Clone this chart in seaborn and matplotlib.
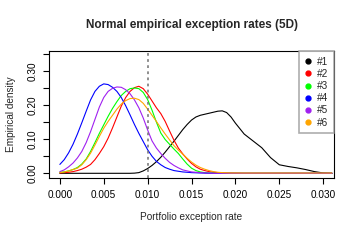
import numpy as np
import pandas as pd
import seaborn as sns
import matplotlib
matplotlib.use("Agg")
import matplotlib.pyplot as plt
from matplotlib.lines import Line2D

# exception rate grid (fine up to 2%, coarser after) and density readings
rate = [i / 2000 for i in range(41)] + [i / 1000 for i in range(21, 32)]
d1 = [0] * 17 + [0.0005, 0.002, 0.007, 0.014, 0.023, 0.034, 0.047, 0.062, 0.078,
                 0.094, 0.111, 0.128, 0.143, 0.156, 0.165, 0.170, 0.173, 0.176,
                 0.179, 0.182, 0.183, 0.178, 0.165, 0.147] + \
     [0.115, 0.095, 0.075, 0.046, 0.025, 0.020, 0.016, 0.011, 0.005, 0.001, 0]
d2 = [0.001, 0.002, 0.003, 0.005, 0.008, 0.012, 0.018, 0.026, 0.040, 0.058, 0.078,
      0.103, 0.133, 0.165, 0.197, 0.222, 0.240, 0.251, 0.255, 0.248, 0.232, 0.212,
      0.192, 0.175, 0.152, 0.124, 0.097, 0.074, 0.057, 0.042, 0.029, 0.019, 0.012,
      0.008, 0.005, 0.003, 0.002, 0.0015, 0.001, 0.0008, 0.0005] + [0] * 11
d3 = [0.003, 0.004, 0.007, 0.011, 0.017, 0.027, 0.042, 0.064, 0.090, 0.117, 0.142,
      0.167, 0.190, 0.210, 0.228, 0.240, 0.248, 0.250, 0.248, 0.237, 0.216, 0.185,
      0.150, 0.118, 0.099, 0.085, 0.071, 0.058, 0.042, 0.027, 0.015, 0.008, 0.004,
      0.002, 0.001, 0.0005] + [0] * 5 + [0] * 11
d4 = [0.026, 0.040, 0.060, 0.085, 0.115, 0.148, 0.182, 0.215, 0.240, 0.255, 0.262,
      0.260, 0.252, 0.240, 0.222, 0.198, 0.171, 0.143, 0.117, 0.093, 0.069, 0.050,
      0.035, 0.025, 0.017, 0.012, 0.008, 0.006, 0.004, 0.003, 0.002, 0.0015, 0.001,
      0.0005] + [0] * 7 + [0] * 11
d5 = [0.005, 0.010, 0.019, 0.030, 0.045, 0.064, 0.090, 0.122, 0.158, 0.194, 0.222,
      0.240, 0.249, 0.253, 0.252, 0.245, 0.233, 0.215, 0.192, 0.162, 0.127, 0.095,
      0.074, 0.058, 0.044, 0.032, 0.023, 0.016, 0.010, 0.007, 0.004, 0.003, 0.002,
      0.001, 0.0005] + [0] * 6 + [0] * 11
d6 = [0.002, 0.004, 0.007, 0.011, 0.015, 0.025, 0.040, 0.059, 0.083, 0.108, 0.132,
      0.152, 0.170, 0.188, 0.203, 0.213, 0.219, 0.220, 0.216, 0.205, 0.188, 0.170,
      0.152, 0.133, 0.115, 0.098, 0.081, 0.068, 0.056, 0.044, 0.033, 0.024, 0.017,
      0.012, 0.008, 0.005, 0.003, 0.002, 0.0015, 0.001, 0.001] + [0.0008] * 11

names = ["#1", "#2", "#3", "#4", "#5", "#6"]
colors = ["black", "#FF0000", "#00FF00", "#0000FF", "#A020F0", "#FFA500"]
target = 0.01

frames = []
for name, dens in zip(names, [d1, d2, d3, d4, d5, d6]):
    frames.append(pd.DataFrame({"rate": rate, "density": dens, "series": name}))
df = pd.concat(frames)

sns.set_style("white")
plt.rcParams['font.family'] = ['Liberation Sans', 'DejaVu Sans']

fig = plt.figure(figsize=(3.6, 2.4), dpi=100)
ax = fig.add_axes([0.136, 0.258, 0.792, 0.529])

sns.lineplot(data=df, x="rate", y="density", hue="series", hue_order=names,
             palette=colors, estimator=None, sort=False, legend=False,
             linewidth=0.8, ax=ax)
ax.axvline(target, color="#707070", lw=1.1, ls=(0, (1.8, 2.2)))

ax.set_xlim(-0.00124, 0.03124)
ax.set_ylim(-0.014, 0.358)
ax.set_xticks([0, 0.005, 0.01, 0.015, 0.02, 0.025, 0.03])
ax.set_xticklabels(["0.000", "0.005", "0.010", "0.015", "0.020", "0.025", "0.030"])
yt = [0, 0.05, 0.1, 0.15, 0.2, 0.25, 0.3, 0.35]
ax.set_yticks(yt)
ax.set_yticklabels(["0.00", "", "0.10", "", "0.20", "", "0.30", ""],
                   rotation=90, va="center")
ax.tick_params(axis="both", direction="out", length=4.5, width=0.8,
               labelsize=7.2, color="black", labelcolor="black", pad=4,
               left=True, bottom=True)
for s in ax.spines.values():
    s.set_visible(True)
    s.set_color("black")
    s.set_linewidth(0.8)

ax.set_xlabel("Portfolio exception rate", fontsize=7.2, labelpad=9)
ax.set_ylabel("Empirical density", fontsize=7.2, labelpad=8)
ax.set_title("Normal empirical exception rates (5D)", fontsize=8.5,
             fontweight="bold", pad=17)

handles = [Line2D([], [], ls="none", marker="o", markersize=3.5,
                  color=c) for c in colors]
leg = ax.legend(handles, names, loc="upper right", fontsize=7.2,
                frameon=True, fancybox=False, borderaxespad=0,
                handletextpad=0.5, labelspacing=0.22, borderpad=0.55,
                handlelength=0.8)
leg.get_frame().set_edgecolor("#999999")
leg.get_frame().set_linewidth(1.2)

fig.savefig("out.png", dpi=100)
